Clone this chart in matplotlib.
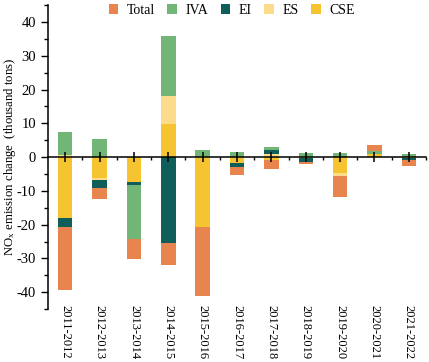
import matplotlib
matplotlib.use("Agg")
import matplotlib.pyplot as plt
import numpy as np
from matplotlib.ticker import MultipleLocator, FixedLocator
from matplotlib.transforms import blended_transform_factory
from matplotlib.patches import Patch

plt.rcParams['font.family'] = ['Liberation Serif', 'DejaVu Serif']
plt.rcParams['mathtext.fontset'] = 'stix'
plt.rcParams['axes.unicode_minus'] = False

periods = ['2011-2012', '2012-2013', '2013-2014', '2014-2015', '2015-2016',
           '2016-2017', '2017-2018', '2018-2019', '2019-2020', '2020-2021', '2021-2022']

cse   = [-17.9, -6.2, -7.5,   9.8, -20.7, -1.7, -1.0, -0.2, -4.7, 0.8, -0.3]
es    = [  0.7, -0.5,  0.0,   8.4,   0.0,  0.0,  0.9,  0.0, -1.0, 0.0,  0.0]
ei    = [ -2.8, -2.5, -0.9, -25.5,   0.0, -1.2,  1.3, -1.2,  0.0, 0.0, -0.5]
iva   = [  6.7,  5.4, -15.9, 17.5,   2.2,  1.6,  0.8,  1.3,  1.1, 0.9,  1.0]
total = [-18.6, -3.2, -5.9,  -6.3, -20.4, -2.4, -2.6, -0.6, -6.0, 1.8, -1.8]

series = [('CSE', cse, '#F7C431'), ('ES', es, '#FCDC8A'), ('EI', ei, '#0F5E59'),
          ('IVA', iva, '#72B677'), ('Total', total, '#E8844D')]
legend_order = ['Total', 'IVA', 'EI', 'ES', 'CSE']

fig = plt.figure(figsize=(4.29, 3.62), dpi=100)
ax = fig.add_axes([0.112, 0.146, 0.881, 0.840])

x = np.arange(len(periods))
pos_base = np.zeros(len(periods))
neg_base = np.zeros(len(periods))
width = 0.42
for name, vals, col in series:
    v = np.array(vals, dtype=float)
    pos = np.where(v > 0, v, 0)
    neg = np.where(v < 0, v, 0)
    ax.bar(x, pos, width, bottom=pos_base, color=col, edgecolor='none', zorder=1)
    ax.bar(x, neg, width, bottom=neg_base, color=col, edgecolor='none', zorder=1)
    pos_base += pos
    neg_base += neg

ax.set_xlim(-0.5, len(periods) - 0.5)
ax.set_ylim(-45, 45)

ax.spines['top'].set_visible(False)
ax.spines['right'].set_visible(False)
ax.spines['bottom'].set_position(('data', 0))
ax.spines['bottom'].set_linewidth(1.1)
ax.spines['left'].set_linewidth(1.1)

ax.yaxis.set_major_locator(MultipleLocator(10))
ax.yaxis.set_minor_locator(MultipleLocator(5))
ax.tick_params(axis='y', which='major', direction='out', length=5, width=1, labelsize=10.5)
ax.tick_params(axis='y', which='minor', direction='out', length=3, width=1)

ax.xaxis.set_major_locator(FixedLocator(x))
ax.xaxis.set_minor_locator(FixedLocator(np.arange(-0.5, len(periods), 1.0)[1:]))
ax.tick_params(axis='x', which='major', direction='inout', length=7, width=1.1, labelbottom=False)
ax.tick_params(axis='x', which='minor', direction='out', length=2.5, width=1)

trans = blended_transform_factory(ax.transData, ax.transAxes)
for xi, lab in zip(x, periods):
    ax.text(xi, 0.012, lab, transform=trans, rotation=270, ha='center', va='top', fontsize=9)

ax.set_ylabel(r'NO$_\mathregular{x}$ emission change  (thousand tons)', fontsize=9.2)
ax.yaxis.set_label_coords(-0.08, 0.5)

cmap = {n: c for n, _, c in series}
handles = [Patch(facecolor=cmap[n], edgecolor='none', label=n) for n in legend_order]
fig.legend(handles=handles, loc='upper center', bbox_to_anchor=(0.54, 1.012), ncol=5,
           frameon=False, fontsize=10, handlelength=0.7, handleheight=0.7,
           handletextpad=0.6, columnspacing=0.9, borderaxespad=0.2)

fig.savefig('out.png', dpi=100)
